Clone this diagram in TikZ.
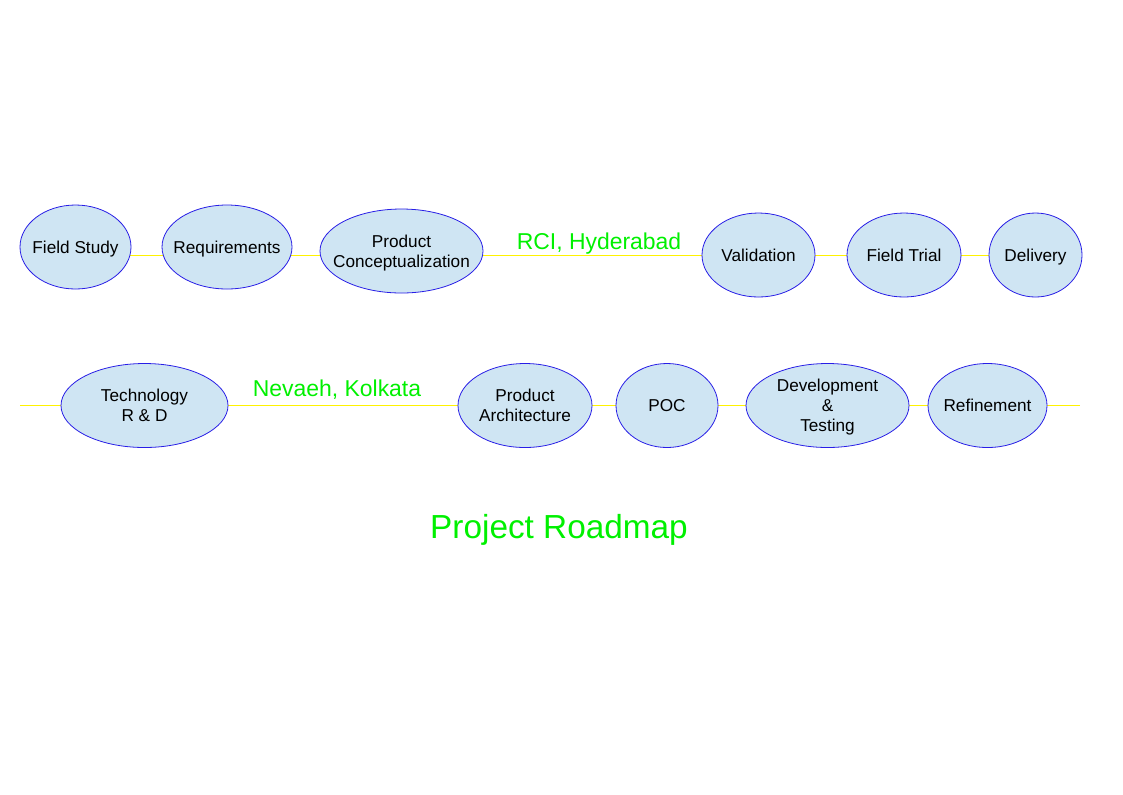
\documentclass[tikz,border=0pt]{standalone}
\usepackage{fontspec}
\setmainfont{Liberation Sans}
\usetikzlibrary{shapes.geometric,backgrounds}
\definecolor{phasefill}{RGB}{207,229,243}
\definecolor{phaseline}{RGB}{40,30,230}
\definecolor{placegreen}{RGB}{0,240,0}
\tikzset{
  phase/.style = {
    ellipse, draw=phaseline, fill=phasefill, line width=0.6pt,
    inner sep=-40pt, minimum height=63pt, minimum width=#1,
    align=center, font=\fontsize{12.9}{15}\selectfont, text depth=0pt
  },
  road/.style  = {yellow, line width=0.6pt},
  place/.style = {placegreen, anchor=base, font=\fontsize{17.2}{20}\selectfont}
}

\begin{document}
\begin{tikzpicture}[x=0.75pt,y=-0.75pt]
  \useasboundingbox (0,0) rectangle (1123,794);
  % upper row
  \node[phase=83.25pt]  (fs)  at (75.5,247)   {Field Study};
  \node[phase=97.5pt]   (rq)  at (227,247)    {Requirements};
  \node[phase=122.25pt] (pc)  at (401.5,251)  {Product\\Conceptualization};
  \node[place]          (rci) at (599,249)    {RCI, Hyderabad};
  \node[phase=84.75pt]  (va)  at (758.5,255)  {Validation};
  \node[phase=85.5pt]   (ft)  at (904,255)    {Field Trial};
  \node[phase=69.75pt]  (dl)  at (1035.5,255) {Delivery};
  % lower row
  \coordinate (bl) at (20,405);
  \coordinate (br) at (1080,405);
  \node[phase=125.25pt] (tr)  at (144.5,405.5) {Technology\\R \& D};
  \node[place]          (nk)  at (337,396)     {Nevaeh, Kolkata};
  \node[phase=100.5pt]  (pa)  at (525,405.5)   {Product\\Architecture};
  \node[phase=76.5pt]   (poc) at (667,405.5)   {POC};
  \node[phase=122.25pt] (dt)  at (827.5,405.5) {Development\\\&\\Testing};
  \node[phase=89.25pt]  (rf)  at (987.5,405.5) {Refinement};
  \node[place,font=\fontsize{25}{30}\selectfont] (title) at (559,538) {Project Roadmap};
  \begin{scope}[on background layer]
    \draw[road] (fs.center |- va.center) -- (dl.center);
    \draw[road] (bl) -- (br);
  \end{scope}
\end{tikzpicture}
\end{document}
